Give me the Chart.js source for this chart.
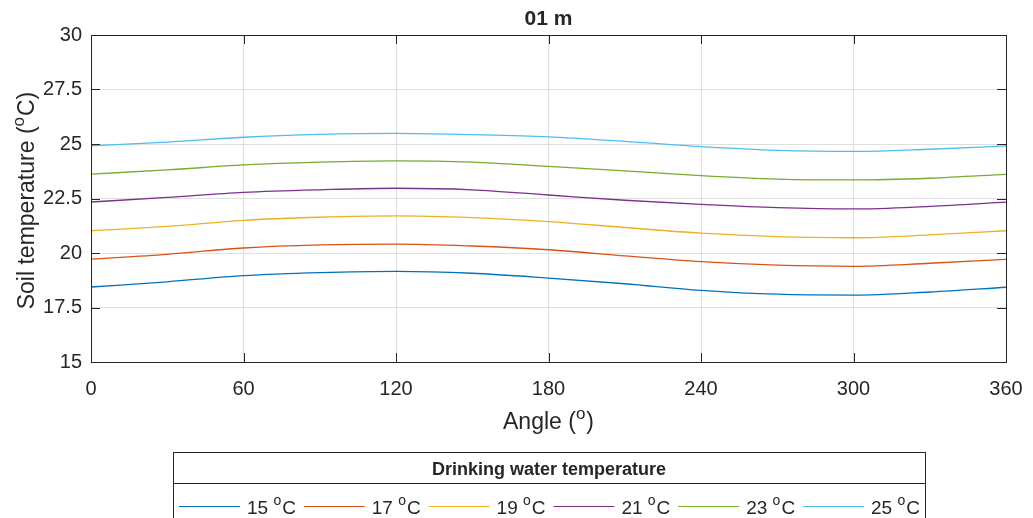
<!DOCTYPE html>
<html>
<head>
<meta charset="utf-8">
<script src="https://cdn.jsdelivr.net/npm/chart.js@4"></script>
<style>
    html, body { margin: 0; padding: 0; background: #fff; }
    #wrap { width: 1033px; height: 518px; }
</style>
</head>
<body>
<div id="wrap"><canvas id="soilChart" width="1033" height="518"></canvas></div>
<script>
// Values (angle in degrees, soil temperature in degC)
const angles = [0, 30, 60, 90, 120, 150, 180, 210, 240, 270, 300, 330, 360];
const t15 = [18.44, 18.68, 18.96, 19.10, 19.16, 19.07, 18.85, 18.59, 18.29, 18.11, 18.07, 18.21, 18.43];
const t17 = [19.72, 19.94, 20.23, 20.37, 20.41, 20.32, 20.15, 19.87, 19.60, 19.44, 19.39, 19.53, 19.71];
const t19 = [21.02, 21.22, 21.50, 21.64, 21.70, 21.62, 21.44, 21.17, 20.91, 20.75, 20.70, 20.83, 21.02];
const t21 = [22.34, 22.55, 22.78, 22.90, 22.97, 22.90, 22.66, 22.42, 22.23, 22.08, 22.02, 22.14, 22.33];
const t23 = [23.62, 23.81, 24.04, 24.17, 24.23, 24.17, 23.97, 23.77, 23.55, 23.39, 23.35, 23.43, 23.61];
const t25 = [24.92, 25.09, 25.31, 25.44, 25.49, 25.43, 25.33, 25.12, 24.88, 24.71, 24.66, 24.76, 24.91];

const seriesLabels = ['15 °C', '17 °C', '19 °C', '21 °C', '23 °C', '25 °C'];
const seriesValues = [t15, t17, t19, t21, t23, t25];
const seriesColors = ['#0072BD', '#D95319', '#EDB120', '#7E2F8E', '#77AC30', '#4DBEEE'];

const xTicks = [0, 60, 120, 180, 240, 300, 360];
const yTicks = [15, 17.5, 20, 22.5, 25, 27.5, 30];

const chartTitle = '01 m';
const xTitle = 'Angle (°)';
const yTitle = 'Soil temperature (°C)';
const legendTitle = 'Drinking water temperature';

const FONT = '"Liberation Sans", Arial, Helvetica, sans-serif';
const INK = '#262626';

// draws text where a degree sign is shown as a raised small "o"
function supWidth(ctx, text, size) {
    let w = 0;
    text.split('°').forEach((part, i) => {
        if (i > 0) {
            ctx.font = `${Math.round(size * 0.75)}px ${FONT}`;
            w += ctx.measureText('o').width + 1;
        }
        ctx.font = `${size}px ${FONT}`;
        w += ctx.measureText(part).width;
    });
    return w;
}

function drawSup(ctx, text, x, y, size) {
    let cx = x;
    ctx.textAlign = 'left';
    ctx.textBaseline = 'alphabetic';
    text.split('°').forEach((part, i) => {
        if (i > 0) {
            ctx.font = `${Math.round(size * 0.75)}px ${FONT}`;
            ctx.fillText('o', cx, y - size * 0.45);
            cx += ctx.measureText('o').width + 1;
        }
        ctx.font = `${size}px ${FONT}`;
        ctx.fillText(part, cx, y);
        cx += ctx.measureText(part).width;
    });
}

const matlabFrame = {
    id: 'matlabFrame',
    afterDraw(chart) {
        const ctx = chart.ctx;
        const area = chart.chartArea;
        const xs = chart.scales.x;
        const ys = chart.scales.y;
        ctx.save();

        // box and inward ticks
        ctx.strokeStyle = INK;
        ctx.lineWidth = 1;
        ctx.strokeRect(Math.round(area.left) + 0.5, Math.round(area.top) + 0.5,
            Math.round(area.right - area.left), Math.round(area.bottom - area.top));
        const tl = 9;
        ctx.beginPath();
        xTicks.forEach(v => {
            const px = Math.round(xs.getPixelForValue(v)) + 0.5;
            ctx.moveTo(px, area.bottom); ctx.lineTo(px, area.bottom - tl);
            ctx.moveTo(px, area.top); ctx.lineTo(px, area.top + tl);
        });
        yTicks.forEach(v => {
            const py = Math.round(ys.getPixelForValue(v)) + 0.5;
            ctx.moveTo(area.left, py); ctx.lineTo(area.left + tl, py);
            ctx.moveTo(area.right, py); ctx.lineTo(area.right - tl, py);
        });
        ctx.stroke();

        ctx.fillStyle = INK;

        // title
        ctx.font = `bold 21px ${FONT}`;
        ctx.textAlign = 'center';
        ctx.textBaseline = 'alphabetic';
        ctx.fillText(chartTitle, (area.left + area.right) / 2, 25);

        // x axis title
        const tsize = 23;
        let w = supWidth(ctx, xTitle, tsize);
        drawSup(ctx, xTitle, (area.left + area.right) / 2 - w / 2, 429, tsize);

        // y axis title, rotated
        w = supWidth(ctx, yTitle, tsize);
        ctx.save();
        ctx.translate(34, (area.top + area.bottom) / 2 + 2);
        ctx.rotate(-Math.PI / 2);
        drawSup(ctx, yTitle, -w / 2, 0, tsize);
        ctx.restore();

        // legend box
        const lx = 173, ly = 452, lw = 752;
        ctx.strokeStyle = INK;
        ctx.strokeRect(lx + 0.5, ly + 0.5, lw, 100);
        ctx.beginPath();
        ctx.moveTo(lx, ly + 31.5); ctx.lineTo(lx + lw, ly + 31.5);
        ctx.stroke();
        ctx.font = `bold 18px ${FONT}`;
        ctx.textAlign = 'center';
        ctx.fillText(legendTitle, lx + lw / 2, ly + 23);

        const step = 124.8;
        chart.data.datasets.forEach((ds, i) => {
            const x0 = lx + 6 + i * step;
            const y0 = ly + 54.5;
            ctx.strokeStyle = ds.borderColor;
            ctx.lineWidth = 1.2;
            ctx.beginPath();
            ctx.moveTo(x0, y0); ctx.lineTo(x0 + 61, y0);
            ctx.stroke();
            ctx.fillStyle = INK;
            drawSup(ctx, ds.label, x0 + 68, y0 + 7, 19);
        });
        ctx.restore();
    }
};

const datasets = seriesLabels.map((label, i) => ({
    label: label,
    data: angles.map((a, j) => ({ x: a, y: seriesValues[i][j] })),
    borderColor: seriesColors[i],
    backgroundColor: seriesColors[i],
    borderWidth: 1.3,
    pointRadius: 0,
    cubicInterpolationMode: 'monotone',
    fill: false
}));

new Chart(document.getElementById('soilChart'), {
    type: 'line',
    data: { datasets: datasets },
    options: {
        responsive: false,
        animation: false,
        layout: { padding: { top: 35, right: 27, left: 0, bottom: 0 } },
        plugins: {
            legend: { display: false },
            title: { display: false },
            tooltip: { enabled: false }
        },
        scales: {
            x: {
                type: 'linear',
                min: 0,
                max: 360,
                afterFit: s => { s.height = 156; s.paddingLeft = 0; s.paddingRight = 0; },
                afterBuildTicks: s => { s.ticks = xTicks.map(v => ({ value: v })); },
                grid: { color: '#dfdfdf', drawTicks: false },
                border: { display: false },
                ticks: { color: INK, padding: 15, maxRotation: 0, font: { family: FONT, size: 20 } }
            },
            y: {
                min: 15,
                max: 30,
                afterFit: s => { s.width = 91; s.paddingTop = 0; s.paddingBottom = 0; },
                afterBuildTicks: s => { s.ticks = yTicks.map(v => ({ value: v })); },
                grid: { color: '#dfdfdf', drawTicks: false },
                border: { display: false },
                ticks: { color: INK, padding: 9, font: { family: FONT, size: 20 } }
            }
        }
    },
    plugins: [matlabFrame]
});
</script>
</body>
</html>
